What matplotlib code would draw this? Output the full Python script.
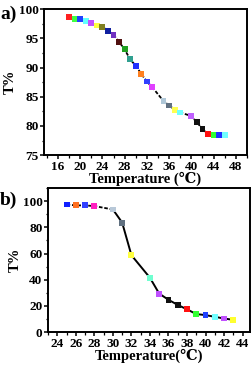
#!/usr/bin/env python3
import matplotlib
matplotlib.use("Agg")
import matplotlib.pyplot as plt
from matplotlib.ticker import MultipleLocator

plt.rcParams['font.family'] = ['Liberation Serif', 'DejaVu Serif', 'DejaVu Sans']
plt.rcParams['font.weight'] = 'bold'

# panel a data
temp_a = [18, 19, 20, 21, 22, 23, 24, 25, 26, 27, 28, 29, 30, 31, 32, 33,
          35, 36, 37, 38, 40, 41, 42, 43, 44, 45, 46]
trans_a = [98.6, 98.3, 98.3, 98.0, 97.6, 97.2, 97.0, 96.3, 95.6, 94.4, 93.1,
           91.4, 90.3, 88.9, 87.6, 86.6, 84.25, 83.5, 82.8, 82.3, 81.7, 80.6,
           79.5, 78.6, 78.5, 78.4, 78.4]
colors_a = ['#ff2020', '#40ff40', '#2040ff', '#60ffff', '#c050ff', '#ffff40',
            '#808020', '#1020a0', '#7030c0', '#501010', '#20a020', '#30a090',
            '#2030ff', '#ff8020', '#3040ff', '#e040ff', '#b0c8d8', '#607080',
            '#ffff50', '#70ffff', '#c060ff', '#101010', '#101010', '#ff1010',
            '#30ff30', '#2030ff', '#70ffff']

# panel b data
temp_b = [25, 26, 27, 28, 30, 31, 32, 34, 35, 36, 37, 38, 39, 40, 41, 42, 43]
trans_b = [97.4, 96.7, 96.7, 96.2, 93.6, 83.6, 58.7, 41.5, 29.4, 24.7, 20.8,
           17.4, 13.8, 13.0, 11.7, 10.4, 9.4]
colors_b = ['#1020ff', '#ff7020', '#3040ff', '#ff20c0', '#b8c8d8', '#607080',
            '#ffff40', '#70ffd0', '#c050ff', '#101010', '#101010', '#ff1010',
            '#30ff30', '#2040ff', '#70ffff', '#c050ff', '#ffff30']

fig = plt.figure(figsize=(2.53, 3.65), dpi=100)
ax1 = fig.add_axes([0.174, 0.575, 0.802, 0.40])
ax2 = fig.add_axes([0.19, 0.09, 0.798, 0.395])


def style(ax):
    for s in ax.spines.values():
        s.set_linewidth(1.4)
    ax.tick_params(which='major', length=3, width=1.1, labelsize=9.5, pad=1)
    ax.tick_params(which='minor', length=1.8, width=0.9)
    for lab in ax.get_xticklabels() + ax.get_yticklabels():
        lab.set_fontweight('bold')


# a)
ax1.plot(temp_a, trans_a, color='black', lw=1.3, ls=(0, (2, 1)), zorder=1)
ax1.scatter(temp_a, trans_a, c=colors_a, marker='s', s=18, zorder=2, linewidths=0)
ax1.set_xlim(13.5, 50)
ax1.set_ylim(75, 100)
ax1.set_xticks(range(16, 49, 4))
ax1.xaxis.set_minor_locator(MultipleLocator(2))
ax1.yaxis.set_major_locator(MultipleLocator(5))
ax1.yaxis.set_minor_locator(MultipleLocator(2.5))
style(ax1)
ax1.set_xlabel('Temperature (\u2103)', fontsize=10.5, fontweight='bold', labelpad=-1)
ax1.set_ylabel('T%', fontsize=10.5, fontweight='bold', labelpad=1)
fig.text(0.0, 0.962, 'a)', fontsize=14, fontweight='bold', va='center')

# b)
ax2.plot(temp_b[:5], trans_b[:5], color='black', lw=1.3, ls=(0, (2, 1)), zorder=1)
ax2.plot(temp_b[4:], trans_b[4:], color='black', lw=1.4, zorder=1)
ax2.scatter(temp_b, trans_b, c=colors_b, marker='s', s=18, zorder=2, linewidths=0)
ax2.set_xlim(23, 44.8)
ax2.set_ylim(0, 110)
ax2.set_xticks(range(24, 45, 2))
ax2.xaxis.set_minor_locator(MultipleLocator(1))
ax2.set_yticks(range(0, 101, 20))
ax2.yaxis.set_minor_locator(MultipleLocator(10))
style(ax2)
ax2.set_xlabel('Temperature(\u2103)', fontsize=10.5, fontweight='bold', labelpad=-1)
ax2.set_ylabel('T%', fontsize=10.5, fontweight='bold', labelpad=1)
fig.text(0.0, 0.45, 'b)', fontsize=14, fontweight='bold', va='center')

fig.savefig('out.png', dpi=100)
